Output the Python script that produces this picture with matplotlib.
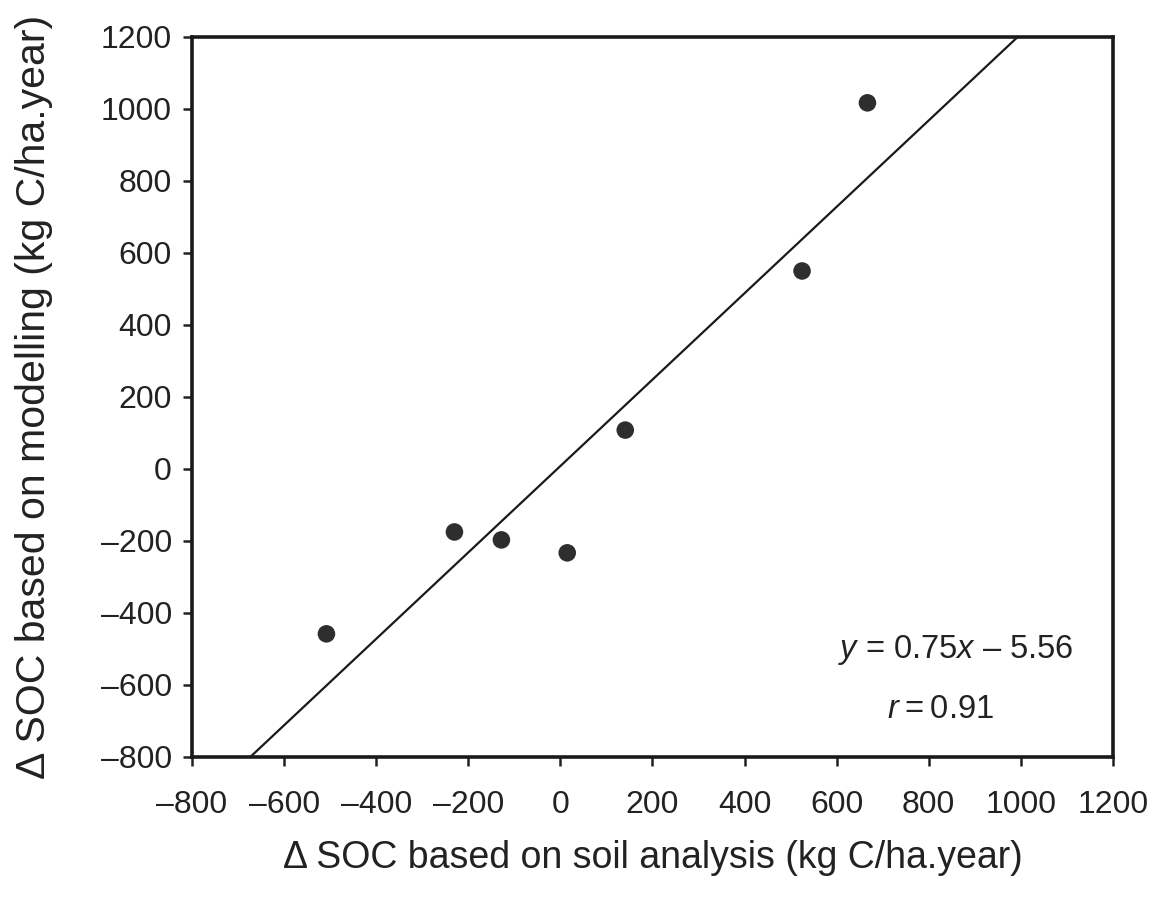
import matplotlib
matplotlib.use("Agg")
import matplotlib.pyplot as plt
import numpy as np

plt.rcParams['font.family'] = ['Liberation Sans', 'DejaVu Sans']
plt.rcParams['mathtext.fontset'] = 'custom'
plt.rcParams['mathtext.rm'] = 'Liberation Sans'
plt.rcParams['mathtext.it'] = 'Liberation Sans:italic'

# Data
soil_analysis = [-508, -230, -128, 15, 141, 525, 667]
modelling = [-458, -175, -197, -233, 108, 550, 1017]

# Drawn regression line (as it appears in the figure)
line_slope = 1.2
line_intercept = 8

x_ticks = [-800, -600, -400, -200, 0, 200, 400, 600, 800, 1000, 1200]
y_ticks = [-800, -600, -400, -200, 0, 200, 400, 600, 800, 1000, 1200]

fig = plt.figure(figsize=(11.58, 9.06), dpi=100)
ax = fig.add_axes([0.1658, 0.1645, 0.7952, 0.7947])

xl = np.array([-800, 1200])
ax.plot(xl, line_slope * xl + line_intercept, color='#1a1a1a', lw=1.6)
ax.scatter(soil_analysis, modelling, s=160, color='#2e2e2e', zorder=3, edgecolors='none')

ax.set_xlim(-800, 1200)
ax.set_ylim(-800, 1200)
ax.set_xticks(x_ticks)
ax.set_yticks(y_ticks)
ax.set_xticklabels([str(t).replace('-', '\u2013') for t in x_ticks])
ax.set_yticklabels([str(t).replace('-', '\u2013') for t in y_ticks])
ax.tick_params(direction='out', length=6.5, width=1.8, labelsize=23, colors='#222222')
ax.tick_params(axis='x', pad=17)
ax.tick_params(axis='y', pad=8)
for s in ax.spines.values():
    s.set_linewidth(2.6)
    s.set_color('#1a1a1a')

ax.text(858, -503, '$y$ = 0.75$x$ \u2013 5.56', fontsize=23.5,
        ha='center', va='center', color='#222222')
ax.text(825, -669, '$r$\u2009=\u20090.91', fontsize=23.5, ha='center', va='center', color='#222222')

ax.set_xlabel('\u0394 SOC based on soil analysis (kg C/ha.year)', fontsize=27,
              color='#222222', labelpad=15)
ax.set_ylabel('\u0394 SOC based on modelling (kg C/ha.year)', fontsize=29.5,
              color='#222222', labelpad=34)

fig.savefig('out.png', dpi=100)
